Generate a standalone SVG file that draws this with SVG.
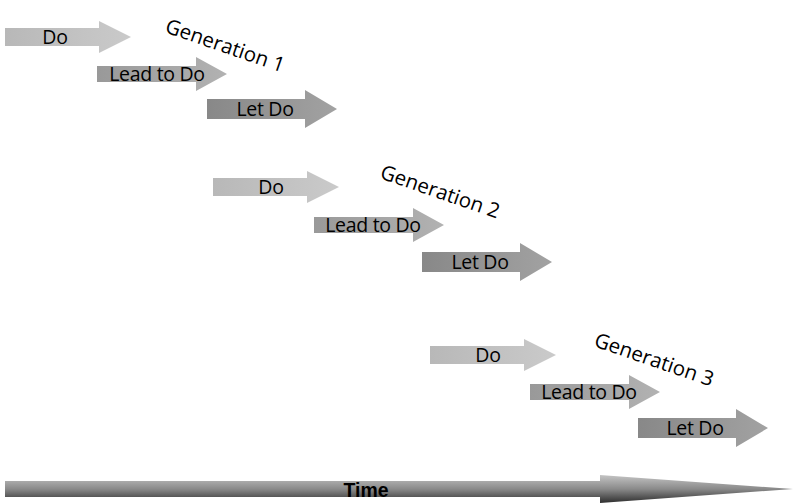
<svg xmlns="http://www.w3.org/2000/svg" width="795" height="504" viewBox="0 0 795 504">
<style>
.do{fill:url(#gDo)}
.lead{fill:url(#gLead)}
.let{fill:url(#gLet)}
.lbl{font-family:"Open Sans","Liberation Sans",sans-serif;font-size:19.5px;fill:#000;text-anchor:middle;letter-spacing:-0.3px}
.gen{font-family:"Open Sans","Liberation Sans",sans-serif;font-size:20.5px;fill:#000}
.time{font-family:"Liberation Sans Narrow","Liberation Sans",sans-serif;font-size:20px;font-weight:bold;fill:#000;text-anchor:middle}
</style>
<defs>
<linearGradient id="gDo" x1="0" y1="0" x2="1" y2="0"><stop offset="0" stop-color="#b8b8b8"/><stop offset="1" stop-color="#cacaca"/></linearGradient>
<linearGradient id="gLead" x1="0" y1="0" x2="1" y2="0"><stop offset="0" stop-color="#999"/><stop offset="1" stop-color="#b2b2b2"/></linearGradient>
<linearGradient id="gLet" x1="0" y1="0" x2="1" y2="0"><stop offset="0" stop-color="#888"/><stop offset="1" stop-color="#a2a2a2"/></linearGradient>
<linearGradient id="gTime" x1="0" y1="0" x2="0" y2="1"><stop offset="0" stop-color="#c4c4c4"/><stop offset="0.5" stop-color="#8a8a8a"/><stop offset="1" stop-color="#2e2e2e"/></linearGradient>
<path id="a-do" d="M0,-9 H94 V-16 L126,0 L94,16 V9 H0 Z"/>
<path id="a-lead" d="M0,-8 H99 V-17 L130,0 L99,17 V8 H0 Z"/>
<path id="a-let" d="M0,-10 H98 V-19 L130,0 L98,19 V10 H0 Z"/>
</defs>
<rect width="795" height="504" fill="#fff"/>

<g id="gen1-do"><use href="#a-do" class="do" x="5" y="37"/><text class="lbl" x="55" y="44">Do</text></g>
<g id="gen1-lead"><use href="#a-lead" class="lead" x="97" y="74"/><text class="lbl" x="157" y="81">Lead to Do</text></g>
<g id="gen1-let"><use href="#a-let" class="let" x="207" y="109"/><text class="lbl" x="265" y="116">Let Do</text></g>
<g id="gen1-label"><text class="gen" transform="translate(164,32) rotate(19)">Generation 1</text></g>

<g id="gen2-do"><use href="#a-do" class="do" x="213" y="187"/><text class="lbl" x="271" y="194">Do</text></g>
<g id="gen2-lead"><use href="#a-lead" class="lead" x="314" y="225"/><text class="lbl" x="373" y="232">Lead to Do</text></g>
<g id="gen2-let"><use href="#a-let" class="let" x="422" y="262"/><text class="lbl" x="480" y="269">Let Do</text></g>
<g id="gen2-label"><text class="gen" transform="translate(379,178) rotate(19)">Generation 2</text></g>

<g id="gen3-do"><use href="#a-do" class="do" x="430" y="355"/><text class="lbl" x="488" y="362">Do</text></g>
<g id="gen3-lead"><use href="#a-lead" class="lead" x="530" y="392"/><text class="lbl" x="589" y="399">Lead to Do</text></g>
<g id="gen3-let"><use href="#a-let" class="let" x="638" y="428"/><text class="lbl" x="695" y="435">Let Do</text></g>
<g id="gen3-label"><text class="gen" transform="translate(593,346) rotate(19)">Generation 3</text></g>

<g id="time-axis">
<path d="M5,481 H600 V475 L793,489 L600,503 V497 H5 Z" fill="url(#gTime)"/>
<text class="time" x="366" y="497" textLength="45" lengthAdjust="spacingAndGlyphs">Time</text>
</g>
</svg>
